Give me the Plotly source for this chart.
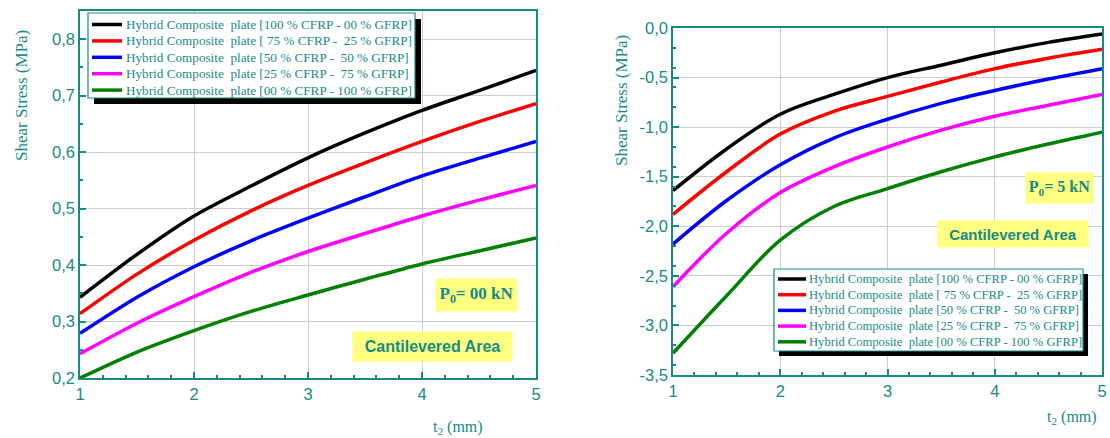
import plotly.graph_objects as go

t2 = [1, 1.5, 2, 2.5, 3, 3.5, 4, 4.5, 5]

series_names = [
    "Hybrid Composite  plate [100 % CFRP - 00 % GFRP]",
    "Hybrid Composite  plate [ 75 % CFRP -  25 % GFRP]",
    "Hybrid Composite  plate [50 % CFRP -  50 % GFRP]",
    "Hybrid Composite  plate [25 % CFRP -  75 % GFRP]",
    "Hybrid Composite  plate [00 % CFRP - 100 % GFRP]",
]
series_colors = ["#000000", "#ff0000", "#0000ff", "#ff00ff", "#008000"]

# Left panel: P0 = 00 kN
p00_cfrp100 = [0.343, 0.419, 0.487, 0.540, 0.590, 0.634, 0.674, 0.709, 0.745]
p00_cfrp75 = [0.314, 0.384, 0.444, 0.496, 0.541, 0.581, 0.619, 0.654, 0.686]
p00_cfrp50 = [0.279, 0.343, 0.397, 0.443, 0.483, 0.521, 0.558, 0.589, 0.619]
p00_cfrp25 = [0.243, 0.297, 0.344, 0.387, 0.424, 0.456, 0.487, 0.515, 0.541]
p00_cfrp00 = [0.200, 0.246, 0.284, 0.318, 0.347, 0.375, 0.402, 0.425, 0.448]

# Right panel: P0 = 5 kN
p5_cfrp100 = [-1.64, -1.22, -0.87, -0.67, -0.50, -0.375, -0.25, -0.145, -0.06]
p5_cfrp75 = [-1.88, -1.45, -1.07, -0.84, -0.69, -0.545, -0.41, -0.305, -0.215]
p5_cfrp50 = [-2.18, -1.74, -1.38, -1.11, -0.92, -0.76, -0.63, -0.515, -0.41]
p5_cfrp25 = [-2.61, -2.07, -1.66, -1.40, -1.20, -1.03, -0.89, -0.78, -0.67]
p5_cfrp00 = [-3.28, -2.70, -2.14, -1.80, -1.62, -1.45, -1.30, -1.17, -1.05]

x_ticks = [1, 2, 3, 4, 5]
x_ticktext = ["1", "2", "3", "4", "5"]
left_yticks = [0.2, 0.3, 0.4, 0.5, 0.6, 0.7, 0.8]
left_yticktext = ["0,2", "0,3", "0,4", "0,5", "0,6", "0,7", "0,8"]
right_yticks = [-3.5, -3.0, -2.5, -2.0, -1.5, -1.0, -0.5, 0.0]
right_yticktext = ["-3,5", "-3,0", "-2,5", "-2,0", "-1,5", "-1,0", "-0,5", "0,0"]

W, H = 1110, 438
TEAL = "#178a87"
YELLOW = "#ffff80"
SERIF = "Liberation Serif, Times New Roman, serif"
SANS = "Liberation Sans, Arial, sans-serif"


def px(x):
    return x / W


def py(y):
    return 1 - y / H


def nb(s):
    return s.replace("  ", " \u00a0")


fig = go.Figure()

left_data = [p00_cfrp100, p00_cfrp75, p00_cfrp50, p00_cfrp25, p00_cfrp00]
right_data = [p5_cfrp100, p5_cfrp75, p5_cfrp50, p5_cfrp25, p5_cfrp00]

for name, col, ys in zip(series_names, series_colors, left_data):
    fig.add_trace(go.Scatter(x=t2, y=ys, mode="lines", name=nb(name), showlegend=False,
                             line=dict(color=col, width=3.5, shape="spline", smoothing=0.8),
                             xaxis="x", yaxis="y"))
for name, col, ys in zip(series_names, series_colors, right_data):
    fig.add_trace(go.Scatter(x=t2, y=ys, mode="lines", name=nb(name), showlegend=False,
                             line=dict(color=col, width=3.5, shape="spline", smoothing=1.0),
                             xaxis="x2", yaxis="y2"))

axis_common = dict(
    showline=True, linecolor=TEAL, linewidth=1.5, mirror=True,
    showgrid=True, gridcolor="#cccccc", gridwidth=1,
    ticks="inside", ticklen=6, tickcolor=TEAL, tickwidth=1.5,
    tickfont=dict(family=SANS, size=16.5, color=TEAL),
    zeroline=False, automargin=False,
    minor=dict(ticks="inside", ticklen=3, tickcolor=TEAL, showgrid=False),
)

fig.update_layout(
    width=W, height=H,
    margin=dict(l=0, r=0, t=0, b=0, autoexpand=False),
    paper_bgcolor="white", plot_bgcolor="white",
    showlegend=False,
    xaxis=dict(domain=[px(80), px(536)], range=[1, 5], tickvals=x_ticks, ticktext=x_ticktext,
               anchor="y", **axis_common),
    yaxis=dict(domain=[py(378), py(11)], range=[0.2, 0.85], tickvals=left_yticks,
               ticktext=left_yticktext, anchor="x", **axis_common),
    xaxis2=dict(domain=[px(673), px(1102)], range=[1, 5], tickvals=x_ticks, ticktext=x_ticktext,
                anchor="y2", **axis_common),
    yaxis2=dict(domain=[py(375), py(28)], range=[-3.5, 0], tickvals=right_yticks,
                ticktext=right_yticktext, anchor="x2", **axis_common),
)

shapes = []
ann = []


def add_legend(box, offset, row_y, sample_x, text_x, font_size):
    x0, y0, x1, y1 = box
    shapes.append(dict(type="rect", xref="paper", yref="paper",
                       x0=px(x0 + offset), x1=px(x1 + offset), y0=py(y1 + offset), y1=py(y0 + offset),
                       fillcolor="black", line=dict(width=0), layer="above"))
    shapes.append(dict(type="rect", xref="paper", yref="paper",
                       x0=px(x0), x1=px(x1), y0=py(y1), y1=py(y0),
                       fillcolor="white", line=dict(color=TEAL, width=1.2), layer="above"))
    for i, (name, col) in enumerate(zip(series_names, series_colors)):
        yy = row_y[0] + i * row_y[1]
        shapes.append(dict(type="line", xref="paper", yref="paper",
                           x0=px(sample_x[0]), x1=px(sample_x[1]), y0=py(yy), y1=py(yy),
                           line=dict(color=col, width=3.5), layer="above"))
        ann.append(dict(x=px(text_x), y=py(yy), xref="paper", yref="paper", text=nb(name),
                        xanchor="left", yanchor="middle", showarrow=False,
                        font=dict(family=SERIF, size=font_size, color=TEAL)))


add_legend((88, 13, 415, 98), 6, (24.5, 16.4), (92, 122), 124, 13.2)
add_legend((774, 269, 1083, 351), 5, (279, 15.7), (778, 806), 807, 12.6)

# axis titles
for x, y in [(21, 96), (621, 100)]:
    ann.append(dict(x=px(x), y=py(y), xref="paper", yref="paper", text="Shear Stress (MPa)",
                    textangle=-90, showarrow=False, xanchor="center", yanchor="middle",
                    font=dict(family=SERIF, size=17, color=TEAL)))
for x, y in [(458, 427), (1072, 417)]:
    ann.append(dict(x=px(x), y=py(y), xref="paper", yref="paper", text="t<sub>2</sub> (mm)",
                    showarrow=False, xanchor="center", yanchor="middle",
                    font=dict(family=SERIF, size=16, color=TEAL)))
# P0 labels
ann.append(dict(x=px(476), y=py(295), xref="paper", yref="paper", text="<b>P<sub>0</sub>= 00 kN</b>",
                showarrow=False, bgcolor=YELLOW, width=81, height=32, borderpad=0,
                xanchor="center", yanchor="middle",
                font=dict(family=SERIF, size=17, color=TEAL)))
ann.append(dict(x=px(1059), y=py(188), xref="paper", yref="paper", text="<b>P<sub>0</sub>= 5 kN</b>",
                showarrow=False, bgcolor=YELLOW, width=67, height=30, borderpad=0,
                xanchor="center", yanchor="middle",
                font=dict(family=SERIF, size=16, color=TEAL)))
# Cantilevered area labels
ann.append(dict(x=px(432), y=py(346), xref="paper", yref="paper", text="<b>Cantilevered Area</b>",
                showarrow=False, bgcolor=YELLOW, width=159, height=29, borderpad=0,
                xanchor="center", yanchor="middle",
                font=dict(family=SANS, size=16, color=TEAL)))
ann.append(dict(x=px(1013), y=py(234), xref="paper", yref="paper", text="<b>Cantilevered Area</b>",
                showarrow=False, bgcolor=YELLOW, width=150, height=26, borderpad=0,
                xanchor="center", yanchor="middle",
                font=dict(family=SANS, size=15, color=TEAL)))

fig.update_layout(shapes=shapes, annotations=ann)

fig.write_html("out.html", config={"displayModeBar": False},
               post_script="document.body.style.margin='0';")
